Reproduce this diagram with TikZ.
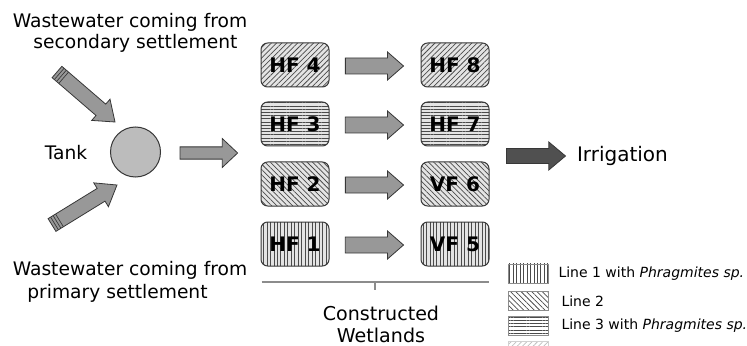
\documentclass[tikz,border=0pt]{standalone}
\usepackage{fontspec}
\setmainfont{DejaVu Sans}
\usetikzlibrary{calc,patterns.meta}

\definecolor{boxgray}{RGB}{228,228,228}
\definecolor{stripegray}{RGB}{75,75,75}
\definecolor{arrowgray}{RGB}{152,152,152}
\definecolor{darkarrow}{RGB}{80,80,80}
\definecolor{tankgray}{RGB}{188,188,188}
\definecolor{edgegray}{RGB}{55,55,55}
\definecolor{bracegray}{RGB}{140,140,140}

\tikzset{every picture/.style={line width=0.75pt}}
\tikzset{
  labeltext/.style={inner sep=0.75pt, font=\fontsize{14}{17}\selectfont},
  legtext/.style={anchor=west, inner sep=0.75pt, font=\fontsize{10.5}{12}\selectfont},
  cwbox/.style={draw=edgegray, rounded corners=5pt, minimum width=51pt, minimum height=33pt,
    inner sep=0pt, font=\bfseries\fontsize{15}{18}\selectfont, preaction={fill=boxgray}},
  swatch/.style={draw=bracegray, line width=0.5pt, minimum width=30pt, minimum height=14.5pt,
    inner sep=0pt, preaction={fill=white}},
  line1/.style={pattern={Lines[angle=90,distance=2.6pt,line width=0.5pt]}, pattern color=stripegray},
  line2/.style={pattern={Lines[angle=-45,distance=2.8pt,line width=0.55pt]}, pattern color=stripegray},
  line3/.style={pattern={Lines[angle=0,distance=2.4pt,line width=0.5pt]}, pattern color=stripegray},
  line4/.style={pattern={Lines[angle=45,distance=2.8pt,line width=0.55pt]}, pattern color=stripegray},
  arrowshape/.style={draw=edgegray, line width=0.6pt, line join=miter},
  ribline/.style={draw=edgegray, line width=0.5pt},
}

% block arrow: [fill] {from} {to} {half body} {half head} {head length}
\newcommand{\blockarrow}[6][arrowgray]{%
  \coordinate (ah) at ($(#3)!#6!(#2)$);
  \filldraw[arrowshape, fill=#1] ($(#2)!#4!90:(#3)$) -- ($(ah)!#4!90:(#3)$) -- ($(ah)!#5!90:(#3)$)
    -- (#3) -- ($(ah)!#5!-90:(#3)$) -- ($(ah)!#4!-90:(#3)$) -- ($(#2)!#4!-90:(#3)$) -- cycle;
}
% ribs across the tail of an inflow arrow
\newcommand{\tailribs}[3]{%
  \foreach \d in {2.2pt,4.4pt,6.6pt} {
    \coordinate (rb) at ($(#1)!\d!(#2)$);
    \draw[ribline] ($(rb)!#3!90:(#2)$) -- ($(rb)!#3!-90:(#2)$);
  }
}

\begin{document}
\begin{tikzpicture}[x=0.75pt,y=0.75pt,yscale=-1,xscale=1]
\useasboundingbox (0,0) rectangle (747,346);

% inflow labels
\node[labeltext] (secA) at (130,22) {Wastewater coming from};
\node[labeltext] (secB) at (135.5,43) {secondary settlement};
\node[labeltext] (priA) at (130,270) {Wastewater coming from};
\node[labeltext] (priB) at (117.5,293) {primary settlement};

%Shape: Tank
\node[circle, draw=edgegray, fill=tankgray, minimum size=37.5pt, inner sep=0pt] (tank) at (135.5,152) {};
\node[labeltext] (tanklbl) at (66,153) {Tank};

% inflow arrows
\coordinate (sec) at (57,72);
\coordinate (sectip) at (115,122);
\coordinate (pri) at (52,225);
\coordinate (pritip) at (117,185);
\blockarrow{sec}{sectip}{5.6pt}{10.5pt}{14pt}
\tailribs{sec}{sectip}{5.6pt}
\blockarrow{pri}{pritip}{5.6pt}{10.5pt}{14pt}
\tailribs{pri}{pritip}{5.6pt}

% Constructed wetlands
\node[cwbox,line4] (hf4) at (295,65) {HF 4};
\node[cwbox,line3] (hf3) at (295,124) {HF 3};
\node[cwbox,line2] (hf2) at (295,184) {HF 2};
\node[cwbox,line1] (hf1) at (295,244) {HF 1};
\node[cwbox,line4] (hf8) at (455,65) {HF 8};
\node[cwbox,line3] (hf7) at (455,124) {HF 7};
\node[cwbox,line2] (vf6) at (455,184) {VF 6};
\node[cwbox,line1] (vf5) at (455,244) {VF 5};

% tank to wetlands
\coordinate (tankout) at ($(tank.east)+(19,1)$);
\coordinate (cwin) at ($(hf3.west)!0.5!(hf2.west)+(-23,-1)$);
\blockarrow{tankout}{cwin}{4.6pt}{10.8pt}{11.5pt}

% first to second stage
\foreach \a/\b in {hf4/hf8,hf3/hf7,hf2/vf6,hf1/vf5} {
  \coordinate (st) at ($(\a.east)+(16,1)$);
  \coordinate (en) at ($(\b.west)+(-17,1)$);
  \blockarrow{st}{en}{6pt}{10.5pt}{12pt}
}

% outflow
\coordinate (irrout) at ($(hf7.east)!0.5!(vf6.east)+(17,2)$);
\coordinate (irrtip) at ($(irrout)+(59,0)$);
\blockarrow[darkarrow]{irrout}{irrtip}{5.6pt}{10.5pt}{12.5pt}
\node[inner sep=0.75pt, anchor=west, font=\fontsize{15}{18}\selectfont] (irr) at ($(irrtip)+(10,0)$) {Irrigation};

% bracket under the wetlands
\coordinate (brl) at ($(hf1.west)+(1,38)$);
\coordinate (brr) at ($(vf5.east)+(-1,38)$);
\coordinate (brm) at ($(brl)!0.5!(brr)$);
\draw[bracegray, line width=1pt] (brl) -- (brr);
\draw[bracegray, line width=1pt] (brm) -- ++(0,8);
\node[labeltext, align=center, anchor=north, font=\fontsize{14.3}{16}\selectfont] (cwlbl) at (381,305) {Constructed\\Wetlands};

% legend
\node[swatch,line1] (sw1) at (528,273.5) {};
\node[swatch,line2] (sw2) at (528,301) {};
\node[swatch,line3] (sw3) at (528,326) {};
\node[swatch,line4,draw=bracegray!40,pattern color=stripegray!35] (sw4) at (528,351) {};
\node[legtext] (leg1) at (557,273.5) {Line 1 with \textit{Phragmites sp.}};
\node[legtext] (leg2) at (560,301) {Line 2};
\node[legtext] (leg3) at (560,326) {Line 3 with \textit{Phragmites sp.}};

\end{tikzpicture}
\end{document}
